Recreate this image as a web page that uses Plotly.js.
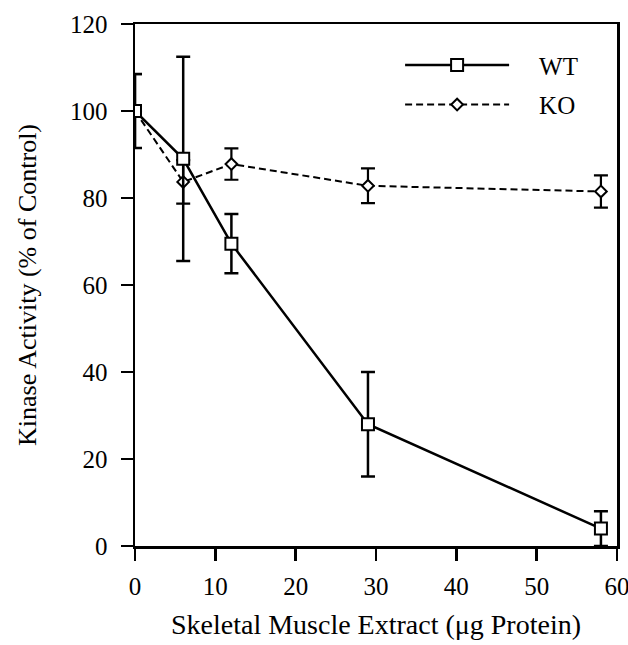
<!DOCTYPE html>
<html>
<head>
<meta charset="utf-8">
<script src="https://cdn.plot.ly/plotly-3.0.1.min.js"></script>
<style>html,body{margin:0;padding:0;background:#fff;}#chart{width:628px;height:645px;}</style>
</head>
<body>
<div id="chart"></div>
<script>
// Data
const wtDose = [0, 6, 12, 29, 58];
const wtActivity = [100, 89, 69.5, 28, 4];
const wtError = [8.5, 23.5, 6.8, 12, 4];

const koDose = [0, 6, 12, 29, 58];
const koActivity = [100, 83.7, 87.8, 82.8, 81.5];
const koError = [8.5, 5, 3.6, 4, 3.7];

const xTicks = [0, 10, 20, 30, 40, 50, 60];
const yTicks = [0, 20, 40, 60, 80, 100, 120];

const FONT = 'Liberation Serif, Times New Roman, serif';
const PAD = '\u00A0\u00A0\u00A0\u00A0';

const ko = {
  x: koDose, y: koActivity, name: PAD + 'KO', type: 'scatter', mode: 'lines+markers',
  line: {color: 'black', width: 2, dash: '7px,4px'},
  marker: {symbol: 'diamond', size: 9, color: 'white', line: {color: 'black', width: 2}},
  error_y: {type: 'data', array: koError, visible: true, color: 'black', thickness: 2.2, width: 7},
  legendrank: 2, legendgroup: 'ko'
};
const wt = {
  x: wtDose, y: wtActivity, name: PAD + 'WT', type: 'scatter', mode: 'lines+markers',
  line: {color: 'black', width: 2.5},
  marker: {symbol: 'square', size: 12, color: 'white', line: {color: 'black', width: 2}},
  error_y: {type: 'data', array: wtError, visible: true, color: 'black', thickness: 2.5, width: 7},
  legendrank: 1, legendgroup: 'wt'
};

const axisCommon = {
  showgrid: false, zeroline: false, showline: true, linecolor: 'black', linewidth: 2.5,
  mirror: true, ticks: 'outside', ticklen: 12, tickwidth: 2.5, tickcolor: 'black',
  ticklabeloverflow: 'allow',
  tickfont: {family: FONT, size: 25, color: 'black'}
};

const layout = {
  width: 628, height: 645,
  margin: {l: 135, r: 11, t: 24, b: 99},
  paper_bgcolor: 'white', plot_bgcolor: 'white',
  font: {family: FONT, color: 'black'},
  showlegend: true,
  legend: {x: 0.55, y: 0.965, xanchor: 'left', yanchor: 'top', bgcolor: 'rgba(0,0,0,0)',
    font: {family: FONT, size: 25, color: 'black'}, itemwidth: 104, tracegroupgap: 4},
  xaxis: Object.assign({}, axisCommon, {
    range: [0, 60], tickvals: xTicks, ticktext: xTicks.map(String), ticklabelstandoff: 4,
    title: {text: 'Skeletal Muscle Extract (μg Protein)', font: {family: FONT, size: 28, color: 'black'}, standoff: 16}
  }),
  yaxis: Object.assign({}, axisCommon, {
    range: [0, 120], tickvals: yTicks, ticktext: yTicks.map(String), ticklabelstandoff: 8,
    title: {text: 'Kinase Activity (% of Control)', font: {family: FONT, size: 26, color: 'black'}, standoff: 26}
  })
};

Plotly.newPlot('chart', [ko, wt], layout, {displayModeBar: false, staticPlot: true});
</script>
</body>
</html>
